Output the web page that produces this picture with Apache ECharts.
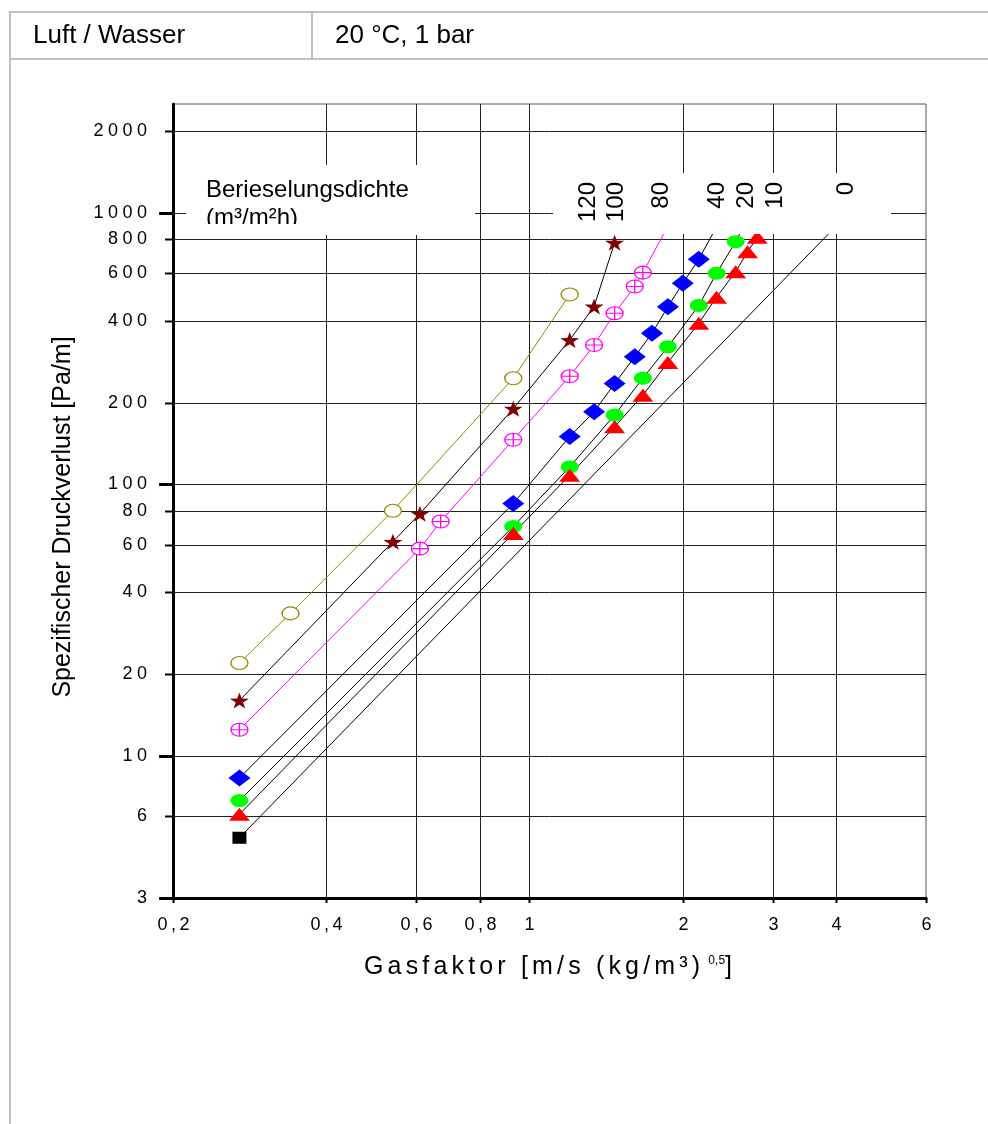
<!DOCTYPE html>
<html><head><meta charset="utf-8">
<script src="https://cdn.jsdelivr.net/npm/echarts@6/dist/echarts.min.js"></script>
<style>html,body{margin:0;padding:0;background:#fff}#c{width:988px;height:1124px}</style>
</head><body><div id="c"></div>
<script>
// ---- data ----
const seriesNames = ['120', '100', '80', '40', '20', '10', '0'];
const gf120 = [0.27, 0.34, 0.54, 0.93, 1.2];
const dp120 = [22, 33.5, 80, 246, 500];
const gf100 = [0.27, 0.54, 0.61, 0.93, 1.2, 1.34, 1.47];
const dp100 = [16, 61.5, 78, 190, 340, 452, 776];
const gf80 = [0.27, 0.61, 0.67, 0.93, 1.2, 1.34, 1.47, 1.61, 1.67];
const dp80 = [12.5, 58, 73, 146, 250, 326, 427, 535, 602];
const gf40 = [0.27, 0.93, 1.2, 1.34, 1.47, 1.61, 1.74, 1.87, 2.0, 2.15];
const dp40 = [8.3, 85, 150, 185, 235, 295, 360, 451, 550, 674];
const gf20 = [0.27, 0.93, 1.2, 1.47, 1.67, 1.87, 2.15, 2.33, 2.54];
const dp20 = [6.85, 70, 116, 180, 246, 321, 456, 599, 783];
const gf10 = [0.27, 0.93, 1.2, 1.47, 1.67, 1.87, 2.15, 2.33, 2.54, 2.68, 2.8];
const dp10 = [6.1, 66, 108, 163, 213, 281, 392, 489, 607, 719, 812];
const gf0 = [0.27];
const dp0 = [5];
// continuation of lines past the last marker (they run under the label box)
const tail80 = [1.92, 980];
const tail40 = [2.38, 955];
const tail20 = [2.64, 900];
const tail0 = [4.24, 1000];
// axis ticks
const xTicks = [0.2, 0.4, 0.6, 0.8, 1, 2, 3, 4, 6];
const xTickLabels = ['0,2', '0,4', '0,6', '0,8', '1', '2', '3', '4', '6'];
const yTicks = [3, 6, 10, 20, 40, 60, 80, 100, 200, 400, 600, 800, 1000, 2000];
const yTickLabels = ['3', '6', '10', '20', '40', '60', '80', '100', '200', '400', '600', '800', '1000', '2000'];
const xMin = 0.2, xMax = 6, yMin = 3, yMax = 2515;

// ---- presentation ----
const FONT = '"Liberation Sans", Arial, Helvetica, sans-serif';
const ELLIPSE = 'path://M0,7A10,7 0 1,1 20,7A10,7 0 1,1 0,7Z';
const OPLUS = 'path://M0,10A10,10 0 1,1 20,10A10,10 0 1,1 0,10ZM10,0L10,20M0,10L20,10';
const STAR = 'path://M10,0L12.4,7.2L20,7.3L13.9,11.8L16.2,19L10,14.6L3.8,19L6.1,11.8L0,7.3L7.6,7.2Z';

function pts(xs, ys, tail) {
  const d = xs.map((x, i) => [x, ys[i]]);
  if (tail) d.push({ value: tail, symbol: 'none' });
  return d;
}
function mk(name, data, lineColor, symbol, size, item) {
  return {
    name, type: 'line', data, symbol, symbolSize: size, showAllSymbol: true,
    lineStyle: { color: lineColor, width: 1 },
    itemStyle: item, emphasis: { disabled: true }, animation: false, z: 3
  };
}

const chart = echarts.init(document.getElementById('c'), null, { renderer: 'canvas' });
chart.setOption({
  animation: false,
  grid: { left: 173, top: 104, width: 753, height: 794, show: true, borderColor: '#555', borderWidth: 1, backgroundColor: 'transparent' },
  xAxis: { type: 'log', logBase: 10, min: xMin, max: xMax,
    axisLine: { show: true, onZero: false, lineStyle: { color: '#000', width: 3 } },
    axisTick: { show: false }, axisLabel: { show: false }, splitLine: { show: false }, minorTick: { show: false } },
  yAxis: { type: 'log', logBase: 10, min: yMin, max: yMax,
    axisLine: { show: true, onZero: false, lineStyle: { color: '#000', width: 3 } },
    axisTick: { show: false }, axisLabel: { show: false }, splitLine: { show: false }, minorTick: { show: false } },
  series: [
    mk(seriesNames[0], pts(gf120, dp120), '#8c8c00', ELLIPSE, [17, 13], { color: '#fff', borderColor: '#8c8c00', borderWidth: 1.2 }),
    mk(seriesNames[1], pts(gf100, dp100), '#000', STAR, [19, 16], { color: '#800000' }),
    mk(seriesNames[2], pts(gf80, dp80, tail80), '#ff00ff', OPLUS, [17, 13], { color: '#fff', borderColor: '#ff00ff', borderWidth: 1.2 }),
    mk(seriesNames[3], pts(gf40, dp40, tail40), '#000', 'diamond', [22, 17], { color: '#0000ff' }),
    mk(seriesNames[4], pts(gf20, dp20, tail20), '#000', ELLIPSE, [18, 13], { color: '#00ff00' }),
    mk(seriesNames[5], pts(gf10, dp10), '#000', 'triangle', [21, 13], { color: '#ff0000' }),
    mk(seriesNames[6], pts(gf0, dp0, tail0), '#000', 'rect', [14, 12], { color: '#000' })
  ]
});

// ---- grid lines, ticks, labels, annotations from the axis scales ----
const px = (x, y) => chart.convertToPixel({ gridIndex: 0 }, [x, y]);
const crisp = v => Math.round(v) + 0.5;
const [gl, gb] = px(xMin, yMin);
const [gr, gt] = px(xMax, yMax);
const spaced = (s, sep) => s.split('').join(sep);
const g = [];

xTicks.forEach((v, i) => {
  const x = crisp(px(v, yMin)[0]);
  if (v > xMin && v < xMax) g.push({ type: 'line', z: 1, silent: true, shape: { x1: x, y1: gt, x2: x, y2: gb }, style: { stroke: '#222', lineWidth: 1 } });
  g.push({ type: 'line', z: 5, silent: true, shape: { x1: x, y1: gb, x2: x, y2: gb + 5 }, style: { stroke: '#000', lineWidth: 2 } });
  g.push({ type: 'text', z: 5, silent: true, x: x, y: 925,
    style: { text: spaced(xTickLabels[i], '\u2009'), font: '18px ' + FONT, fill: '#000', align: 'center', verticalAlign: 'middle' } });
});
yTicks.forEach((v, i) => {
  const y = crisp(px(xMin, v)[1]);
  if (v > yMin) g.push({ type: 'line', z: 1, silent: true, shape: { x1: gl, y1: y, x2: gr, y2: y }, style: { stroke: '#222', lineWidth: 1 } });
  const decade = Math.abs(Math.log10(v) - Math.round(Math.log10(v))) < 1e-9 || v === yMin;
  g.push({ type: 'line', z: 5, silent: true, shape: { x1: gl - (decade ? 14 : 8), y1: y, x2: gl, y2: y }, style: { stroke: '#000', lineWidth: decade ? 3 : 2 } });
  g.push({ type: 'text', z: 5, silent: true, x: gl - 26, y: y,
    style: { text: spaced(yTickLabels[i], '\u2005'), font: '18px ' + FONT, fill: '#000', align: 'right', verticalAlign: 'middle' } });
});

// white label boxes in the upper part of the plot
g.push({ type: 'rect', z: 10, silent: true, shape: { x: 186, y: 165, width: 289, height: 70 }, style: { fill: '#fff' } });
g.push({ type: 'rect', z: 10, silent: true, shape: { x: 553, y: 173, width: 338, height: 61 }, style: { fill: '#fff' } });
g.push({ type: 'text', z: 11, silent: true, x: 206, y: 190, style: { text: 'Berieselungsdichte', font: '24px ' + FONT, fill: '#000', align: 'left', verticalAlign: 'middle' } });
g.push({ type: 'text', z: 11, silent: true, x: 206, y: 218, style: { text: '(m³/m²h)', font: '24px ' + FONT, fill: '#000', align: 'left', verticalAlign: 'middle' } });
g.push({ type: 'rect', z: 12, silent: true, shape: { x: 186, y: 224, width: 289, height: 11 }, style: { fill: '#fff' } });
const labelX = [588, 616, 661, 717, 746, 775, 846];
seriesNames.forEach((n, i) => {
  g.push({ type: 'text', z: 11, silent: true, x: labelX[i], y: 182, rotation: Math.PI / 2,
    style: { text: n, font: '24px ' + FONT, fill: '#000', align: 'right', verticalAlign: 'middle' } });
});

// axis titles
g.push({ type: 'text', z: 5, silent: true, x: 548, y: 967,
  style: { text: '{a|' + spaced('Gasfaktor [m/s (kg/m³)', '\u2006') + '\u2006\u2006}{b|0,5}{a|]}',
    rich: { a: { font: '25px ' + FONT, fill: '#000' }, b: { font: '12px ' + FONT, fill: '#000', verticalAlign: 'top' } },
    align: 'center', verticalAlign: 'middle' } });
g.push({ type: 'text', z: 5, silent: true, x: 63, y: 517, rotation: Math.PI / 2,
  style: { text: 'Spezifischer Druckverlust [Pa/m]', font: '25px ' + FONT, fill: '#000', align: 'center', verticalAlign: 'middle' } });

// header table
const frame = { stroke: '#c0c0c0', lineWidth: 2 };
g.push({ type: 'line', z: 5, silent: true, shape: { x1: 10, y1: 12, x2: 988, y2: 12 }, style: frame });
g.push({ type: 'line', z: 5, silent: true, shape: { x1: 10, y1: 59, x2: 988, y2: 59 }, style: frame });
g.push({ type: 'line', z: 5, silent: true, shape: { x1: 312, y1: 12, x2: 312, y2: 59 }, style: frame });
g.push({ type: 'line', z: 5, silent: true, shape: { x1: 10, y1: 11, x2: 10, y2: 1124 }, style: frame });
g.push({ type: 'text', z: 5, silent: true, x: 33, y: 36, style: { text: 'Luft / Wasser', font: '26px ' + FONT, fill: '#000', verticalAlign: 'middle' } });
g.push({ type: 'text', z: 5, silent: true, x: 335, y: 36, style: { text: '20 °C, 1 bar', font: '26px ' + FONT, fill: '#000', verticalAlign: 'middle' } });

chart.setOption({ graphic: { elements: g } });
</script>
</body></html>
